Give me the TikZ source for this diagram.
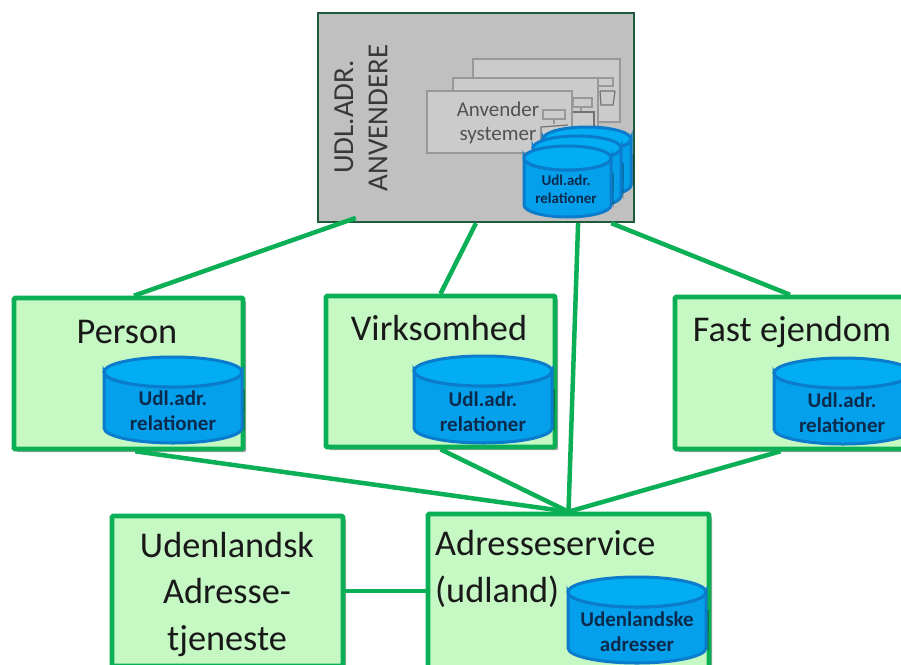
\documentclass[tikz,border=0pt]{standalone}
\usepackage{fontspec}
\setmainfont{Carlito}
\usetikzlibrary{shadows,calc}
\definecolor{edgegreen}{HTML}{0BAF55}
\definecolor{boxfill}{HTML}{C6F8C4}
\definecolor{topfill}{HTML}{C0C0C0}
\definecolor{topedge}{HTML}{1E5B3C}
\definecolor{innerfill}{HTML}{CBCBCB}
\definecolor{inneredge}{HTML}{989898}
\definecolor{dbbody}{HTML}{05A0EC}
\definecolor{dbtop}{HTML}{02ADF4}
\definecolor{dbedge}{HTML}{0A7CCB}
\definecolor{dbtext}{HTML}{0B2A4C}
\tikzset{
  softshadow/.style={drop shadow={shadow xshift=3pt,shadow yshift=-3pt,fill=black,opacity=.35}},
  greenbox/.style={draw=edgegreen,line width=4.6pt,fill=boxfill,rounded corners=1pt,inner sep=0pt,softshadow},
  link/.style={draw=edgegreen,line width=4.5pt},
  boxlabel/.style={font=\fontsize{36.3}{46.5}\selectfont,text=black!90,inner sep=0pt,align=center},
  graylabel/.style={font=\fontsize{29}{34}\selectfont,text=black!78,inner sep=0pt,rotate=90},
  syslabel/.style={font=\fontsize{21}{25}\selectfont,text=black!68,inner sep=0pt},
  innerbox/.style={draw=inneredge,line width=1.2pt,fill=innerfill},
  icon/.style={draw=inneredge,line width=1.2pt},
  icondark/.style={draw=black!55,line width=1.2pt},
  dblabel/.style={font=\bfseries\fontsize{21}{25}\selectfont,text=dbtext,inner sep=0pt,align=center},
  dblabelsmall/.style={font=\bfseries\fontsize{15}{18}\selectfont,text=dbtext,inner sep=0pt,align=center},
}
% x, y (top left), w, h, ry, line width
\newcommand{\dbcyl}[6]{%
  \begin{scope}[shift={(#1,#2)}]
    \fill[black,opacity=.3] (2.5,#6+3) -- (2.5,#4-#5+3) arc[start angle=180,end angle=360,x radius=#3/2,y radius=#5] -- (#3+3,#6+3) -- cycle;
    \path[fill=dbbody,draw=dbedge,line width=3pt] (0,#5) -- (0,#4-#5)
      arc[start angle=180,end angle=360,x radius=#3/2,y radius=-#5]
      -- (#3,#5) arc[start angle=0,end angle=-180,x radius=#3/2,y radius=-#5] -- cycle;
    \path[fill=dbtop,draw=dbedge,line width=3pt] (#3/2,#5) ellipse[x radius=#3/2,y radius=#5];
  \end{scope}}
\begin{document}
\begin{tikzpicture}[x=1pt,y=-1pt]
\clip (0,0) rectangle (901,664);
\fill[white] (0,0) rectangle (901,664);

% top box
\node[draw=topedge,line width=2.4pt,fill=topfill,minimum width=316pt,minimum height=209pt,inner sep=0pt] (top) at (476,117.5) {};
\node[graylabel] (udl) at (344,117) {UDL.ADR.};
\node[graylabel] (anv) at (378,118) {ANVENDERE};

% stacked application windows
\node[innerbox,minimum width=147pt,minimum height=63pt,inner sep=0pt] (sysc) at (546.5,90.5) {};
\draw[icon] (598,78) rectangle (613,86);
\draw[icondark] (600,91) -- (615,91) (600,91) -- (601,105) -- (613,105) -- (615,91);
\node[innerbox,minimum width=145pt,minimum height=63pt,inner sep=0pt] (sysb) at (525.5,109.5) {};
\draw[icon] (573,98) rectangle (592,107);
\draw[icon] (581,107) -- (581,112);
\draw[icondark] (573,112) -- (594,112) -- (594,128);
\node[innerbox,minimum width=145pt,minimum height=62pt,inner sep=0pt] (sysa) at (499.5,122) {};
\node[syslabel] (anvsys1) at (498,109) {Anvender};
\node[syslabel] (anvsys2) at (498,136) {systemer};
\draw[icon] (543,110) rectangle (565,119);
\draw[icon] (554,119) -- (554,124);
\draw[icondark] (541,140) -- (541,127) -- (568,125);

% boxes
\node[greenbox,minimum width=229pt,minimum height=151pt] (person) at (128.5,373.5) {};
\node[greenbox,minimum width=229pt,minimum height=151pt] (virk) at (440.5,371.5) {};
\node[greenbox,minimum width=230pt,minimum height=152pt] (fast) at (790,373) {};
\node[greenbox,minimum width=231pt,minimum height=150pt] (uden) at (227.5,591) {};
\node[greenbox,minimum width=281pt,minimum height=154pt] (adr) at (568.5,591) {};

% connectors
\draw[link,shorten <=-16pt] (top.218.4) -- (person.86.6);
\draw[link] (top.south) -- (virk.north);
\draw[link] (top.-46.2) -- (adr.north);
\draw[link] (top.-38.8) -- (fast.north);
\draw[link] (person.-85) -- (adr.north);
\draw[link] (virk.south) -- (adr.north);
\draw[link] (fast.-97.6) -- (adr.north);
\draw[link] (uden.east) -- (adr.west);

% box labels
\node[boxlabel] (lperson) at (127,332) {Person};
\node[boxlabel] (lvirk) at (439,328) {Virksomhed};
\node[boxlabel] (lfast) at (792,332) {Fast ejendom};
\node[boxlabel] (luden) at (227,594) {Udenlandsk\\[0pt]Adresse-\\[0pt]tjeneste};
\node[boxlabel,align=left,anchor=west] (ladr) at (435,569) {Adresseservice\\[0pt](udland)};

% databases
\dbcyl{104}{357}{138}{86}{15}{30}
\node[dblabel] (dbperson) at (173,411) {Udl.adr.\\relationer};
\dbcyl{414}{356}{138}{87}{15}{30}
\node[dblabel] (dbvirk) at (483,412) {Udl.adr.\\relationer};
\dbcyl{774}{358}{138}{86}{15}{30}
\node[dblabel] (dbfast) at (842,413) {Udl.adr.\\relationer};
\dbcyl{568}{577}{138}{86}{15}{30}
\node[dblabel] (dbadr) at (637,632) {Udenlandske\\adresser};
\dbcyl{543}{127}{88}{70}{12}{24}
\dbcyl{533}{136}{88}{72}{12}{24}
\dbcyl{524}{146}{87}{71}{12}{24}
\node[dblabelsmall] (dbtop) at (566,189) {Udl.adr.\\relationer};
\end{tikzpicture}
\end{document}
